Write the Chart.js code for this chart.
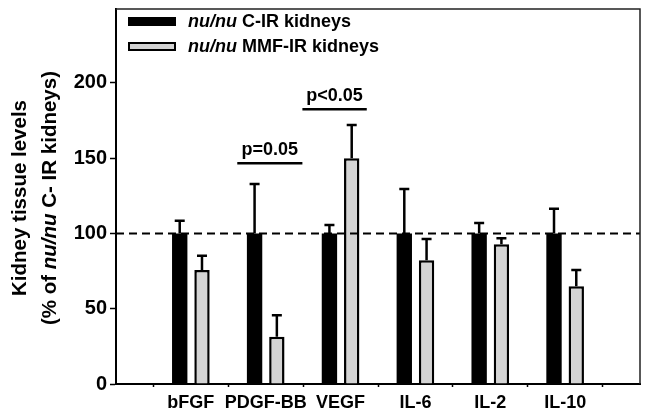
<!DOCTYPE html>
<html>
<head>
<meta charset="utf-8">
<script src="https://cdn.jsdelivr.net/npm/chart.js@4.4.1/dist/chart.umd.min.js"></script>
<style>
  html, body { margin: 0; padding: 0; background: #ffffff; }
  #wrap { width: 649px; height: 416px; position: relative; }
</style>
</head>
<body>
<div id="wrap"><canvas id="c"></canvas></div>
<script>
// ---- data ----
const categories = ['bFGF', 'PDGF-BB', 'VEGF', 'IL-6', 'IL-2', 'IL-10'];
const seriesNames = ['C-IR kidneys', 'MMF-IR kidneys'];
const cirValues = [100, 100, 100, 100, 100, 100];
const cirErrors = [8.4, 32.8, 5.6, 29.5, 6.9, 16.4];
const mmfValues = [75.7, 31.4, 149.9, 82.1, 92.8, 64.9];
const mmfErrors = [9.5, 14.2, 22.1, 14.2, 3.9, 10.8];
const yTicks = [0, 50, 100, 150, 200];
const referenceLevel = 100;
const sigLabels = ['p=0.05', 'p<0.05'];
const sigStart = [1.62, 2.49];
const sigEnd = [2.49, 3.35];
const sigLevel = [146.5, 182.4];

const FONT = "'Liberation Sans', Arial, Helvetica, sans-serif";
Chart.defaults.font.family = FONT;
Chart.defaults.color = '#000';

const positions = categories.map((c, i) => i + 1);
const errorsByDataset = [cirErrors, mmfErrors];

const overlayPlugin = {
  id: 'overlay',
  afterDatasetsDraw(chart) {
    const ctx = chart.ctx;
    const ca = chart.chartArea;
    const ys = chart.scales.y;
    const xs = chart.scales.x;
    ctx.save();
    // dashed reference line
    ctx.strokeStyle = '#000';
    ctx.lineWidth = 2;
    ctx.setLineDash([8, 5]);
    const y100 = ys.getPixelForValue(referenceLevel);
    ctx.beginPath();
    ctx.moveTo(ca.left, y100);
    ctx.lineTo(ca.right, y100);
    ctx.stroke();
    ctx.setLineDash([]);
    // error bars (upper only)
    chart.data.datasets.forEach((ds, di) => {
      const meta = chart.getDatasetMeta(di);
      meta.data.forEach((bar, i) => {
        const v = ds.data[i].y;
        const e = errorsByDataset[di][i];
        const top = ys.getPixelForValue(v);
        const cap = ys.getPixelForValue(v + e);
        ctx.lineWidth = 2.5;
        ctx.strokeStyle = '#000';
        ctx.beginPath();
        ctx.moveTo(bar.x, top);
        ctx.lineTo(bar.x, cap);
        ctx.moveTo(bar.x - 5, cap);
        ctx.lineTo(bar.x + 5, cap);
        ctx.stroke();
      });
    });
    // significance lines
    ctx.font = 'bold 18px ' + FONT;
    ctx.textAlign = 'center';
    ctx.textBaseline = 'alphabetic';
    ctx.fillStyle = '#000';
    sigLabels.forEach((lab, i) => {
      const x0 = xs.getPixelForValue(sigStart[i]);
      const x1 = xs.getPixelForValue(sigEnd[i]);
      const y = ys.getPixelForValue(sigLevel[i]);
      ctx.lineWidth = 2.5;
      ctx.beginPath();
      ctx.moveTo(x0, y);
      ctx.lineTo(x1, y);
      ctx.stroke();
      ctx.fillText(lab, (x0 + x1) / 2, y - 8.5);
    });
    // frame (top and right)
    ctx.strokeStyle = '#222';
    ctx.lineWidth = 1.5;
    ctx.beginPath();
    ctx.moveTo(ca.left, ca.top);
    ctx.lineTo(ca.right, ca.top);
    ctx.lineTo(ca.right, ca.bottom);
    ctx.stroke();
    // legend
    const swX = ca.left + 12, swW = 48, swH = 9;
    const rows = [ca.top + 8, ca.top + 33];
    ctx.fillStyle = '#000';
    ctx.fillRect(swX, rows[0], swW, swH);
    ctx.fillStyle = '#d4d4d4';
    ctx.fillRect(swX, rows[1], swW, swH);
    ctx.strokeStyle = '#000';
    ctx.lineWidth = 2;
    ctx.strokeRect(swX + 1, rows[1] + 1, swW - 2, swH - 2);
    ctx.textAlign = 'left';
    ctx.fillStyle = '#000';
    const tx = swX + 60;
    [ca.top + 18, ca.top + 43].forEach((by, i) => {
      ctx.font = 'italic bold 18px ' + FONT;
      const it = 'nu/nu';
      ctx.fillText(it, tx, by);
      const w = ctx.measureText(it + ' ').width;
      ctx.font = 'bold 18px ' + FONT;
      ctx.fillText(seriesNames[i], tx + w, by);
    });
    ctx.restore();
  },
  afterDraw(chart) {
    // y axis title with mixed italic
    const ctx = chart.ctx;
    const cy = (chart.chartArea.top + chart.chartArea.bottom) / 2 + 1.5;
    ctx.save();
    ctx.fillStyle = '#000';
    ctx.textBaseline = 'alphabetic';
    ctx.textAlign = 'left';
    const lines = [
      { x: 25.5, parts: [['Kidney tissue levels', false]] },
      { x: 55.5, parts: [['(% of ', false], ['nu/nu', true], [' C- IR kidneys)', false]] }
    ];
    lines.forEach(line => {
      let total = 0;
      line.parts.forEach(p => {
        ctx.font = (p[1] ? 'italic ' : '') + 'bold 20.5px ' + FONT;
        total += ctx.measureText(p[0]).width;
      });
      ctx.save();
      ctx.translate(line.x, cy);
      ctx.rotate(-Math.PI / 2);
      let x = -total / 2;
      line.parts.forEach(p => {
        ctx.font = (p[1] ? 'italic ' : '') + 'bold 20.5px ' + FONT;
        ctx.fillText(p[0], x, 0);
        x += ctx.measureText(p[0]).width;
      });
      ctx.restore();
    });
    ctx.restore();
  }
};

new Chart(document.getElementById('c'), {
  type: 'bar',
  data: {
    datasets: [
      {
        label: 'nu/nu ' + seriesNames[0],
        data: positions.map((p, i) => ({ x: p, y: cirValues[i] })),
        backgroundColor: '#000',
        borderWidth: 0
      },
      {
        label: 'nu/nu ' + seriesNames[1],
        data: positions.map((p, i) => ({ x: p, y: mmfValues[i] })),
        backgroundColor: '#d4d4d4',
        borderColor: '#000',
        borderWidth: 2.5
      }
    ]
  },
  options: {
    responsive: true,
    maintainAspectRatio: false,
    animation: false,
    categoryPercentage: 0.595,
    barPercentage: 0.69,
    layout: { padding: { top: 9, right: 9, left: 0, bottom: 0 } },
    plugins: { legend: { display: false }, tooltip: { enabled: false } },
    scales: {
      x: {
        type: 'linear',
        min: 0,
        max: categories.length + 1,
        offset: false,
        afterFit(s) { s.height = 32; s.paddingLeft = 0; s.paddingRight = 0; },
        afterBuildTicks(s) { s.ticks = positions.map(v => ({ value: v })); },
        ticks: {
          autoSkip: false,
          maxRotation: 0,
          padding: 5,
          font: { size: 18, weight: 'bold' },
          color: '#000',
          callback: (v) => categories[v - 1] || ''
        },
        grid: { drawOnChartArea: false, tickLength: 3, tickColor: '#000', tickWidth: 1.5 },
        border: { color: '#000', width: 2 }
      },
      y: {
        min: 0,
        max: 249,
        afterFit(s) { s.width = 116; s.paddingTop = 0; s.paddingBottom = 0; },
        afterBuildTicks(s) { s.ticks = yTicks.map(v => ({ value: v })); },
        ticks: {
          padding: 3,
          font: { size: 20, weight: 'bold' },
          color: '#000'
        },
        grid: { drawOnChartArea: false, tickLength: 6, tickColor: '#000', tickWidth: 1.5 },
        border: { color: '#000', width: 2 }
      }
    }
  },
  plugins: [overlayPlugin]
});
</script>
</body>
</html>
